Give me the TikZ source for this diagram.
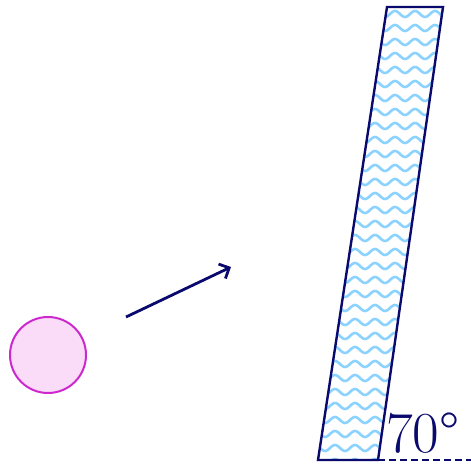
\documentclass[tikz,border=0pt]{standalone}
\usepackage{amsmath, amssymb}
\usepackage{fontspec}
\usepackage{tikz}
\usetikzlibrary{arrows.meta}
\definecolor{navy}{RGB}{10,10,110}
\definecolor{wavecol}{RGB}{140,210,255}
\definecolor{ballline}{RGB}{205,40,205}
\definecolor{ballfill}{RGB}{250,220,248}

\begin{document}
\begin{tikzpicture}[x=1pt,y=-1pt]
        \useasboundingbox (0,0) rectangle (471,463);
        \node[circle, draw=ballline, fill=ballfill, line width=2pt, minimum size=76pt, inner sep=0pt] (ball) at (48,355) {};
        \coordinate (P) at (126,317);
        \coordinate (Q) at (231,267);
        \draw[navy, line width=2.8pt, -{Straight Barb[length=8pt,width=16pt]}] (P)--(Q);
        \coordinate (A) at (318,460);
        \coordinate (B) at (378,460);
        \coordinate (C) at (443,7);
        \coordinate (D) at (387,7);
        \begin{scope}
            \clip (A)--(B)--(C)--(D)--cycle;
            \foreach \r in {0,14,...,476}
                \draw[wavecol, line width=2.6pt, smooth, domain=310:450, samples=120]
                    plot (\x,{\r+3*sin(\x*18)});
        \end{scope}
        \draw[navy, line width=2.4pt, line join=miter] (A)--(B)--(C)--(D)--cycle;
        \coordinate (E) at (471,460);
        \draw[navy, line width=2pt, dash pattern=on 7pt off 4pt] (B)--(E);
        \node[navy, anchor=base west, inner sep=0pt, font=\fontsize{58}{62}\selectfont] (ang) at (386,452) {70°};
    \end{tikzpicture}
\end{document}
